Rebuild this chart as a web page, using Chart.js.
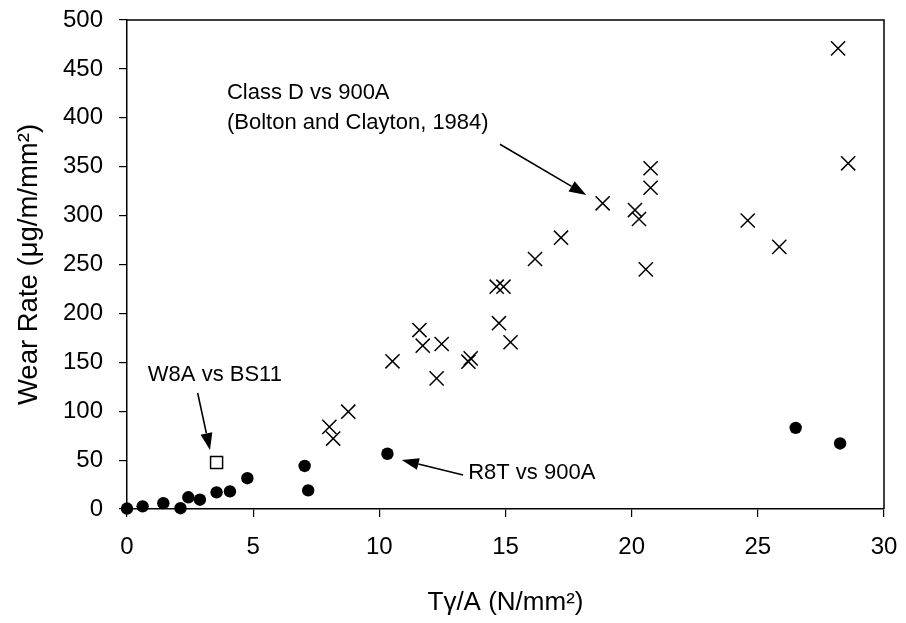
<!DOCTYPE html>
<html>
<head>
<meta charset="utf-8">
<script src="https://cdn.jsdelivr.net/npm/chart.js@4.4.1/dist/chart.umd.min.js"></script>
<style>
  html, body { margin: 0; padding: 0; background: #fff; }
  canvas { display: block; }
</style>
</head>
<body>
<canvas id="c" width="906" height="623"></canvas>
<script>
// ---- Data ----
const classDX = [8.02, 8.17, 8.77, 10.52, 11.59, 11.72, 12.27, 12.47, 13.53, 13.62, 14.65, 14.92, 14.74, 15.2, 16.17, 17.2, 18.85, 20.13, 20.29, 20.56, 20.75, 20.75, 24.6, 25.85, 28.18, 28.58];
const classDY = [84, 72, 99.5, 151, 183, 167, 133.6, 168.7, 150.6, 154, 227.3, 227.3, 190, 170.5, 255.6, 277.4, 312.6, 305.7, 296.5, 245, 328.5, 348.4, 295, 268, 471, 353.5];

const r8tX = [0, 0.62, 1.44, 2.12, 2.43, 2.89, 3.55, 4.08, 4.77, 7.04, 7.18, 10.32, 26.5, 28.26];
const r8tY = [0.5, 2.7, 6, 0.8, 12, 9.5, 17, 18, 31.5, 44, 19, 56.5, 83, 67];

const w8aX = [3.55];
const w8aY = [47.5];

const xTickValues = [0, 5, 10, 15, 20, 25, 30];
const yTickValues = [0, 50, 100, 150, 200, 250, 300, 350, 400, 450, 500];

const seriesNames = ['Class D vs 900A', 'R8T vs 900A', 'W8A vs BS11'];
const xTitle = 'T\u03B3/A (N/mm\u00B2)';
const yTitle = 'Wear Rate (\u03BCg/m/mm\u00B2)';

// ---- Annotations (text in data-space anchors) ----
const annotations = [
  { lines: ['Class D vs 900A', '(Bolton and Clayton, 1984)'], x: 3.96, y: 425, align: 'left',
    arrow: { from: [14.78, 373], to: [18.2, 321] } },
  { lines: ['W8A vs BS11'], x: 6.14, y: 137.5, align: 'right',
    arrow: { from: [2.8, 118.6], to: [3.29, 60.3] } },
  { lines: ['R8T vs 900A'], x: 13.52, y: 36.8, align: 'left',
    arrow: { from: [13.32, 34.8], to: [10.89, 50.1] } }
];

const FONT = "'Liberation Sans', Arial, sans-serif";
const zip = (xs, ys) => xs.map((x, i) => ({ x: x, y: ys[i] }));

const framePlugin = {
  id: 'frame',
  afterDraw(chart) {
    const { ctx, chartArea: a } = chart;
    ctx.save();
    ctx.strokeStyle = '#000';
    ctx.lineWidth = 1.5;
    ctx.beginPath();
    ctx.moveTo(a.left, a.top);
    ctx.lineTo(a.right, a.top);
    ctx.lineTo(a.right, a.bottom);
    ctx.stroke();
    ctx.restore();
  }
};

const annotationPlugin = {
  id: 'notes',
  afterDatasetsDraw(chart) {
    const { ctx, scales } = chart;
    const px = v => scales.x.getPixelForValue(v);
    const py = v => scales.y.getPixelForValue(v);
    ctx.save();
    ctx.fillStyle = '#000';
    ctx.strokeStyle = '#000';
    ctx.font = '22px ' + FONT;
    ctx.textBaseline = 'middle';
    annotations.forEach(n => {
      ctx.textAlign = n.align;
      n.lines.forEach((t, i) => ctx.fillText(t, px(n.x), py(n.y) + i * 30));
      const x1 = px(n.arrow.from[0]), y1 = py(n.arrow.from[1]);
      const x2 = px(n.arrow.to[0]), y2 = py(n.arrow.to[1]);
      const ang = Math.atan2(y2 - y1, x2 - x1);
      const hl = 17, hw = 6;
      const bx = x2 - hl * Math.cos(ang), by = y2 - hl * Math.sin(ang);
      ctx.lineWidth = 1.6;
      ctx.beginPath();
      ctx.moveTo(x1, y1);
      ctx.lineTo(bx, by);
      ctx.stroke();
      ctx.beginPath();
      ctx.moveTo(x2, y2);
      ctx.lineTo(bx + hw * Math.sin(ang), by - hw * Math.cos(ang));
      ctx.lineTo(bx - hw * Math.sin(ang), by + hw * Math.cos(ang));
      ctx.closePath();
      ctx.fill();
    });
    ctx.restore();
  }
};

new Chart(document.getElementById('c'), {
  type: 'scatter',
  data: {
    datasets: [
      { label: seriesNames[2], data: zip(w8aX, w8aY), pointStyle: 'rect', pointRadius: 8.5,
        backgroundColor: '#fff', borderColor: '#000', borderWidth: 1.5, clip: false },
      { label: seriesNames[1], data: zip(r8tX, r8tY), pointStyle: 'circle', pointRadius: 6.2,
        backgroundColor: '#000', borderColor: '#000', borderWidth: 0, clip: false },
      { label: seriesNames[0], data: zip(classDX, classDY), pointStyle: 'crossRot', pointRadius: 10,
        backgroundColor: '#000', borderColor: '#000', borderWidth: 1.5, clip: false }
    ]
  },
  options: {
    responsive: false,
    animation: false,
    devicePixelRatio: 1,
    layout: { padding: { top: 20, right: 22, left: 0, bottom: 0 } },
    plugins: { legend: { display: false }, tooltip: { enabled: false } },
    scales: {
      x: {
        type: 'linear', min: 0, max: 30,
        afterBuildTicks(s) { s.ticks = xTickValues.map(v => ({ value: v })); },
        afterFit(s) { s.height = 114; s.paddingLeft = 0; s.paddingRight = 0; },
        ticks: { color: '#000', font: { family: FONT, size: 24 }, padding: 16, maxRotation: 0 },
        grid: { drawOnChartArea: false, drawTicks: true, tickLength: 8, color: '#000', lineWidth: 1.2 },
        border: { display: true, color: '#000', width: 1.5 },
        title: { display: true, text: xTitle, color: '#000', font: { family: FONT, size: 26 }, padding: { top: 0, bottom: 5 } }
      },
      y: {
        type: 'linear', min: 0, max: 500,
        afterBuildTicks(s) { s.ticks = yTickValues.map(v => ({ value: v })); },
        afterFit(s) { s.width = 127; s.paddingTop = 0; s.paddingBottom = 0; },
        ticks: { color: '#000', font: { family: FONT, size: 24 }, padding: 16 },
        grid: { drawOnChartArea: false, drawTicks: true, tickLength: 8, color: '#000', lineWidth: 1.2 },
        border: { display: true, color: '#000', width: 1.5 },
        title: { display: true, text: yTitle, color: '#000', font: { family: FONT, size: 27.5 }, padding: { top: 13, bottom: 0 } }
      }
    }
  },
  plugins: [framePlugin, annotationPlugin]
});
</script>
</body>
</html>
